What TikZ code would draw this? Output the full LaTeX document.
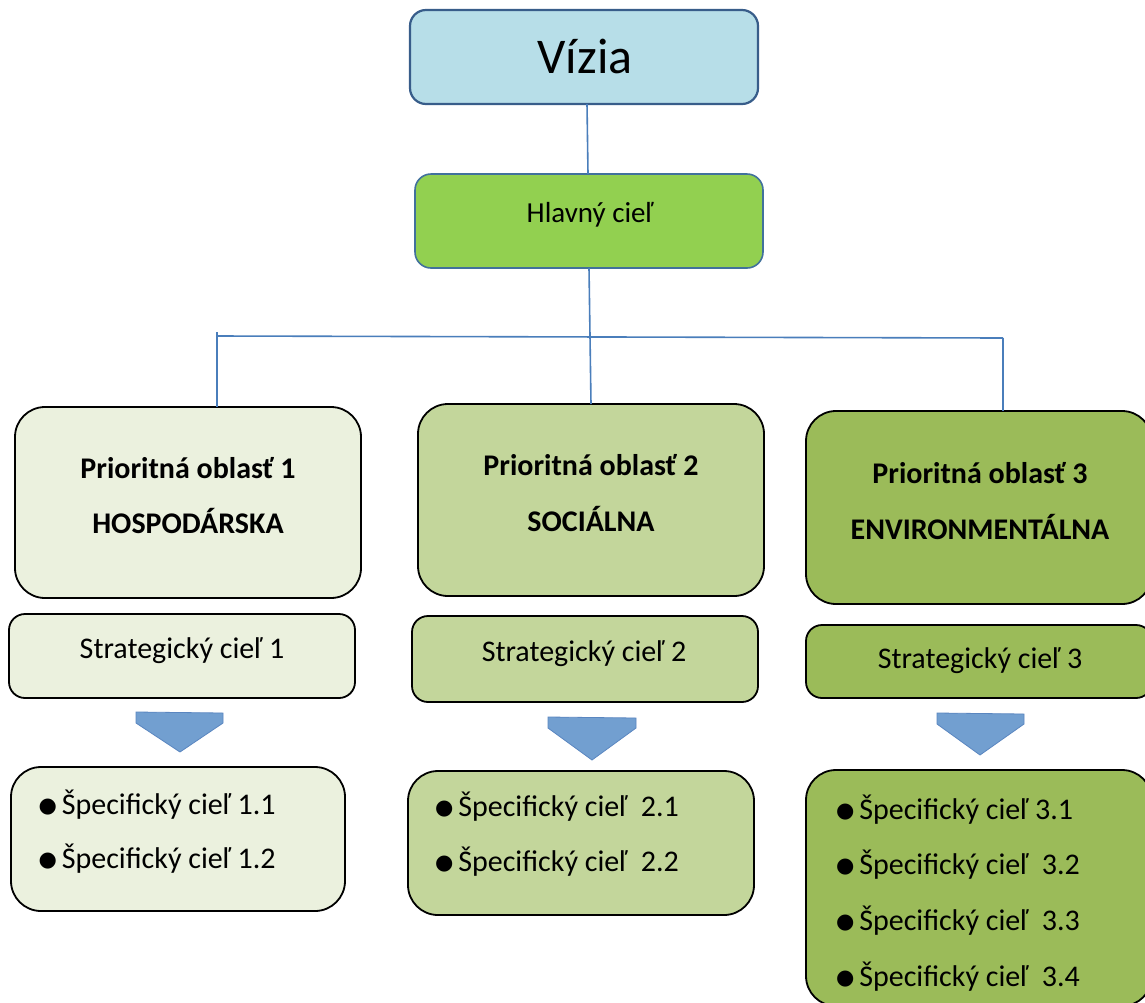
\documentclass[tikz,border=0pt]{standalone}
\usepackage{fontspec}
\setmainfont{Carlito}
\newfontfamily\dejavu{DejaVu Sans}
\definecolor{viziafill}{HTML}{B7DEE8}
\definecolor{viziadraw}{HTML}{385D8A}
\definecolor{hlavfill}{HTML}{92D050}
\definecolor{hlavdraw}{HTML}{41719C}
\definecolor{pa}{HTML}{EBF1DE}
\definecolor{pb}{HTML}{C3D69B}
\definecolor{pc}{HTML}{9BBB59}
\definecolor{conn}{HTML}{4A7EBB}
\definecolor{chevfill}{HTML}{729FD0}
\definecolor{chevdraw}{HTML}{5A86C0}
\tikzset{
  boxbase/.style={rectangle, anchor=north west, inner sep=0pt, outer sep=0pt},
  bigbox/.style={boxbase, draw=black, line width=1.8pt, rounded corners=30pt},
  midbox/.style={boxbase, draw=black, line width=1.8pt, rounded corners=16pt},
  topbox/.style={boxbase, line width=2.2pt, rounded corners=16pt},
  txt/.style={anchor=base, inner sep=0pt, font=\fontsize{30}{34}\selectfont},
  btxt/.style={anchor=base, inner sep=0pt, font=\fontsize{30}{34}\selectfont\bfseries},
  itemtxt/.style={anchor=base west, inner sep=0pt, font=\fontsize{30}{34}\selectfont},
  conline/.style={draw=conn, line width=1.6pt},
  chev/.style={fill=chevfill, draw=chevdraw, line width=0.8pt},
}
\newcommand{\bul}{\raisebox{1.3pt}{\dejavu\fontsize{21}{21}\selectfont ●}\hspace{4.8pt}}
\begin{document}
\begin{tikzpicture}[x=1pt,y=-1pt]
\useasboundingbox (0,0) rectangle (1145,1002);
\fill[white] (0,0) rectangle (1145,1002);

% top boxes
\node[topbox, draw=viziadraw, fill=viziafill, minimum width=348pt, minimum height=94pt] (vizia) at (410,10) {};
\node[anchor=base, inner sep=0pt, font=\fontsize{50}{54}\selectfont] (viziat) at (585,73) {Vízia};
\node[topbox, draw=hlavdraw, fill=hlavfill, line width=1.6pt, minimum width=348pt, minimum height=94pt] (hlav) at (415,174) {};
\node[anchor=base, inner sep=0pt, font=\fontsize{29}{34}\selectfont] (hlavt) at (590,222) {Hlavný cieľ};

% priority boxes
\node[bigbox, fill=pa, minimum width=346pt, minimum height=191pt] (p1) at (15,407) {};
\node[bigbox, fill=pb, minimum width=346pt, minimum height=192pt] (p2) at (418,404) {};
\node[bigbox, fill=pc, minimum width=346pt, minimum height=193pt] (p3) at (806,411) {};
\node[btxt] (p1a) at (188,478) {Prioritná oblasť 1};
\node[btxt] (p1b) at (188,533) {HOSPODÁRSKA};
\node[btxt] (p2a) at (591,475) {Prioritná oblasť 2};
\node[btxt] (p2b) at (591,531) {SOCIÁLNA};
\node[btxt] (p3a) at (980,483) {Prioritná oblasť 3};
\node[btxt] (p3b) at (980,539) {ENVIRONMENTÁLNA};

% strategic boxes
\node[midbox, fill=pa, minimum width=346pt, minimum height=84pt] (s1) at (9,614) {};
\node[midbox, fill=pb, minimum width=346pt, minimum height=86pt] (s2) at (412,616) {};
\node[midbox, fill=pc, minimum width=346pt, minimum height=73pt] (s3) at (806,625) {};
\node[txt] (s1t) at (182,658) {Strategický cieľ 1};
\node[txt] (s2t) at (584,661) {Strategický cieľ 2};
\node[txt] (s3t) at (980,668) {Strategický cieľ 3};

% chevrons
\draw[chev] (136,712) -- (223,713) -- (223,723) -- (180,752) -- (136,723) -- cycle;
\draw[chev] (548,717) -- (636,718) -- (636,728) -- (592,760) -- (548,728) -- cycle;
\draw[chev] (937,713) -- (1024,714) -- (1024,724) -- (980,755) -- (937,724) -- cycle;

% specific boxes
\node[bigbox, fill=pa, minimum width=334pt, minimum height=144pt] (sp1) at (11,767) {};
\node[bigbox, fill=pb, minimum width=346pt, minimum height=144pt] (sp2) at (408,771) {};
\node[bigbox, fill=pc, minimum width=346pt, minimum height=236pt] (sp3) at (806,770) {};
\node[itemtxt] (i11) at (38.5,814) {\bul Špecifický cieľ 1.1};
\node[itemtxt] (i12) at (38.5,868) {\bul Špecifický cieľ 1.2};
\node[itemtxt] (i21) at (435,816) {\bul Špecifický cieľ\ \ 2.1};
\node[itemtxt] (i22) at (435,871) {\bul Špecifický cieľ\ \ 2.2};
\node[itemtxt] (i31) at (836,819) {\bul Špecifický cieľ 3.1};
\node[itemtxt] (i32) at (836,874) {\bul Špecifický cieľ\ \ 3.2};
\node[itemtxt] (i33) at (836,930) {\bul Špecifický cieľ\ \ 3.3};
\node[itemtxt] (i34) at (836,986) {\bul Špecifický cieľ\ \ 3.4};

% connectors
\coordinate (jl) at (217,336);
\coordinate (jr) at (1003,338);
\coordinate (jlt) at (217,332);
\draw[conline] ([xshift=3pt]vizia.south) -- ([xshift=-1pt]hlav.north);
\draw[conline] (hlav.south) -- (p2.north);
\draw[conline] (jl) -- (jr);
\draw[conline] (jlt) -- (jl |- p1.north);
\draw[conline] (jr) -- (jr |- p3.north);
\end{tikzpicture}
\end{document}
